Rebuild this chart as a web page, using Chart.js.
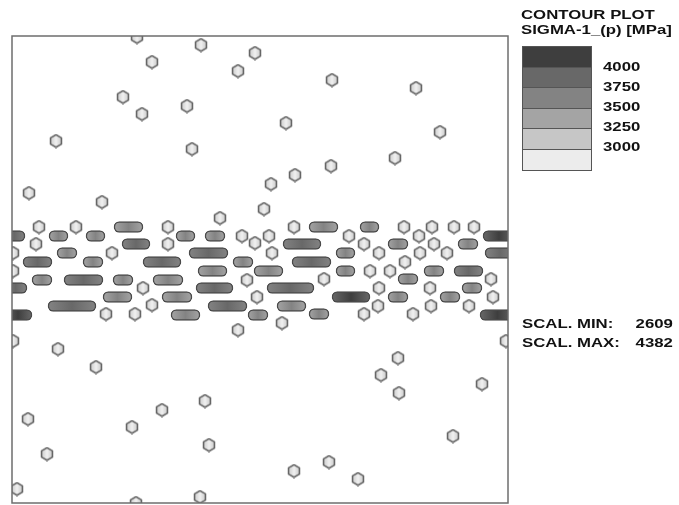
<!DOCTYPE html>
<html>
<head>
<meta charset="utf-8">
<script src="https://cdn.jsdelivr.net/npm/chart.js@4/dist/chart.umd.min.js"></script>
<style>
  body { margin: 0; background: #fff; }
  #wrap { position: relative; width: 679px; height: 505px; overflow: hidden; }
  #plot { position: absolute; left: 0; top: 0; width: 679px; height: 505px; }
  .txt { position: absolute; font-family: "Liberation Sans", Arial, sans-serif; font-weight: bold;
         font-size: 13px; line-height: 13px; color: #111; white-space: nowrap;
         transform: scaleX(1.29); transform-origin: left top; }
  .rt { transform-origin: right top; text-align: right; }
  .box { position: absolute; left: 522px; width: 70px; border: 1px solid #555; box-sizing: border-box; }
</style>
</head>
<body>
<div id="wrap">
  <canvas id="plot" width="679" height="505"></canvas>
  <div id="legend"></div>
</div>
<script>
// transverse fibres (hexagons), centre positions
const hexX = [137,201,255,152,238,123,142,187,56,192,29,102,
              332,416,286,440,395,331,295,271,264,
              220,39,76,168,36,168,242,112,255,13,13,143,247,106,135,152,238,257,
              294,269,349,272,364,379,404,432,454,474,419,434,420,447,405,370,390,324,379,430,491,493,378,431,469,364,413,282,
              13,58,96,28,162,205,132,209,47,17,200,136,
              506,398,381,399,482,453,329,294,358];
const hexY = [37,45,53,62,71,97,114,106,141,149,193,202,
              80,88,123,132,158,166,175,184,209,
              218,227,227,227,244,244,236,253,243,253,271,288,280,314,314,305,330,297,
              227,236,236,253,244,253,227,227,227,227,236,244,253,253,262,271,271,279,288,288,279,297,306,306,306,314,314,323,
              341,349,367,419,410,401,427,445,454,489,497,503,
              341,358,375,393,384,436,462,471,479];

// longitudinal fibres (capsules): start, end, row, and stress
const fibreStart = [4,49,86,114,122,176,205,57,189,23,83,143,233,198,32,64,113,153,4,196,103,162,48,208,4,171,
                    309,360,483,283,388,458,336,485,292,254,336,424,454,398,267,332,388,440,462,277,248,309,480];
const fibreEnd   = [25,68,105,143,150,195,225,77,228,52,103,181,253,227,52,103,133,183,27,233,132,192,96,247,32,200,
                    338,379,515,321,408,478,355,515,331,283,355,444,483,418,314,370,408,460,482,306,268,329,515];
const fibreY     = [236,236,236,227,244,236,236,253,253,262,262,262,262,271,280,280,280,280,288,288,297,297,306,306,315,315,
                    227,227,236,244,244,244,253,253,262,271,271,271,271,279,288,297,297,297,288,306,315,314,315];
const fibreSigma = [3900,3550,3550,3700,3750,3550,3550,3550,3900,3750,3550,3950,3700,3700,3550,3850,3550,3700,3800,3800,3700,3700,3850,3850,4050,3700,
                    3700,3550,4050,3900,3550,3550,3550,3850,3850,3700,3550,3550,3750,3550,3850,4050,3550,3550,3550,3700,3600,3550,4050];

// contour legend
const contourLevels = [4000, 3750, 3500, 3250, 3000];
const levelColors = ['#3e3e3e', '#686868', '#838383', '#a4a4a4', '#c6c6c6', '#ececec'];
const scalMin = 2609;
const scalMax = 4382;

function levelIndex(v) {
  for (let i = 0; i < contourLevels.length; i++) {
    if (v >= contourLevels[i]) return i;
  }
  return levelColors.length - 1;
}

// fibre fill: contour colour in the middle, one level lighter at the ends
function fibreFill(ctx) {
  const i = ctx.dataIndex;
  if (i === undefined || !ctx.chart.chartArea) return '#838383';
  const xs = ctx.chart.scales.x;
  const x1 = xs.getPixelForValue(fibreStart[i]), x2 = xs.getPixelForValue(fibreEnd[i]);
  const k = levelIndex(fibreSigma[i]);
  const g = ctx.chart.ctx.createLinearGradient(x1, 0, x2, 0);
  g.addColorStop(0, levelColors[Math.min(k + 1, 5)]);
  g.addColorStop(0.5, levelColors[k]);
  g.addColorStop(1, levelColors[Math.min(k + 1, 5)]);
  return g;
}

// hexagon marker
const hex = document.createElement('canvas');
hex.width = 14; hex.height = 15;
(function () {
  const c = hex.getContext('2d');
  const r = 6.3, cx = 7, cy = 7.5;
  c.beginPath();
  for (let i = 0; i < 6; i++) {
    const a = Math.PI / 2 + i * Math.PI / 3;
    const px = cx + r * Math.cos(a), py = cy + r * Math.sin(a);
    if (i === 0) c.moveTo(px, py); else c.lineTo(px, py);
  }
  c.closePath();
  const g = c.createLinearGradient(1, 0, 13, 0);
  g.addColorStop(0, '#c8c8c8');
  g.addColorStop(0.5, '#f0f0f0');
  g.addColorStop(1, '#c8c8c8');
  c.fillStyle = g;
  c.fill();
  c.lineWidth = 1.6;
  c.strokeStyle = '#666';
  c.stroke();
})();

const frame = {
  id: 'frame',
  afterDraw(chart) {
    const a = chart.chartArea, c = chart.ctx;
    c.save();
    c.strokeStyle = '#6e6e6e';
    c.lineWidth = 1.5;
    c.strokeRect(a.left, a.top, a.right - a.left, a.bottom - a.top);
    c.restore();
  }
};

const fibres = fibreY.map((y, i) => ({ x: [fibreStart[i], fibreEnd[i]], y: y }));
const hexes = hexX.map((x, i) => ({ x: x, y: hexY[i] }));

new Chart(document.getElementById('plot'), {
  type: 'bar',
  data: {
    datasets: [{
      type: 'bar',
      label: 'fibres 0',
      indexAxis: 'y',
      data: fibres,
      backgroundColor: fibreFill,
      borderColor: '#4a4a4a',
      borderWidth: 1.5,
      borderRadius: 5.5,
      borderSkipped: false,
      barThickness: 11,
      clip: 0
    }, {
      type: 'scatter',
      label: 'fibres 90',
      data: hexes,
      pointStyle: hex,
      pointRadius: 7,
      clip: 0
    }]
  },
  options: {
    responsive: false,
    maintainAspectRatio: false,
    animation: false,
    layout: { autoPadding: false, padding: { left: 12, top: 36, right: 171, bottom: 2 } },
    plugins: { legend: { display: false }, tooltip: { enabled: false } },
    scales: {
      x: { type: 'linear', min: 12, max: 508, offset: false, beginAtZero: false, grace: 0, display: false },
      y: { type: 'linear', min: 36, max: 503, reverse: true, offset: false, beginAtZero: false, grace: 0, display: false }
    }
  },
  plugins: [frame]
});

// legend on the right
const leg = document.getElementById('legend');
function addText(text, left, top, right) {
  const d = document.createElement('div');
  d.className = 'txt' + (right ? ' rt' : '');
  d.textContent = text;
  d.style.top = top + 'px';
  if (right) d.style.right = (679 - left) + 'px'; else d.style.left = left + 'px';
  leg.appendChild(d);
}
addText('CONTOUR PLOT', 521, 8);
addText('SIGMA-1_(p) [MPa]', 521, 23);
const boxTops = [46, 66.7, 87.3, 107.7, 128.3, 149, 169.5];
levelColors.forEach((col, i) => {
  const b = document.createElement('div');
  b.className = 'box';
  b.style.top = boxTops[i] + 'px';
  b.style.height = (boxTops[i + 1] - boxTops[i] + 1) + 'px';
  b.style.background = col;
  leg.appendChild(b);
});
contourLevels.forEach((v, i) => addText(String(v), 603, 60 + i * 20));
addText('SCAL. MIN:', 522, 317);
addText('SCAL. MAX:', 522, 336);
addText(String(scalMin), 673, 317, true);
addText(String(scalMax), 673, 336, true);
</script>
</body>
</html>
